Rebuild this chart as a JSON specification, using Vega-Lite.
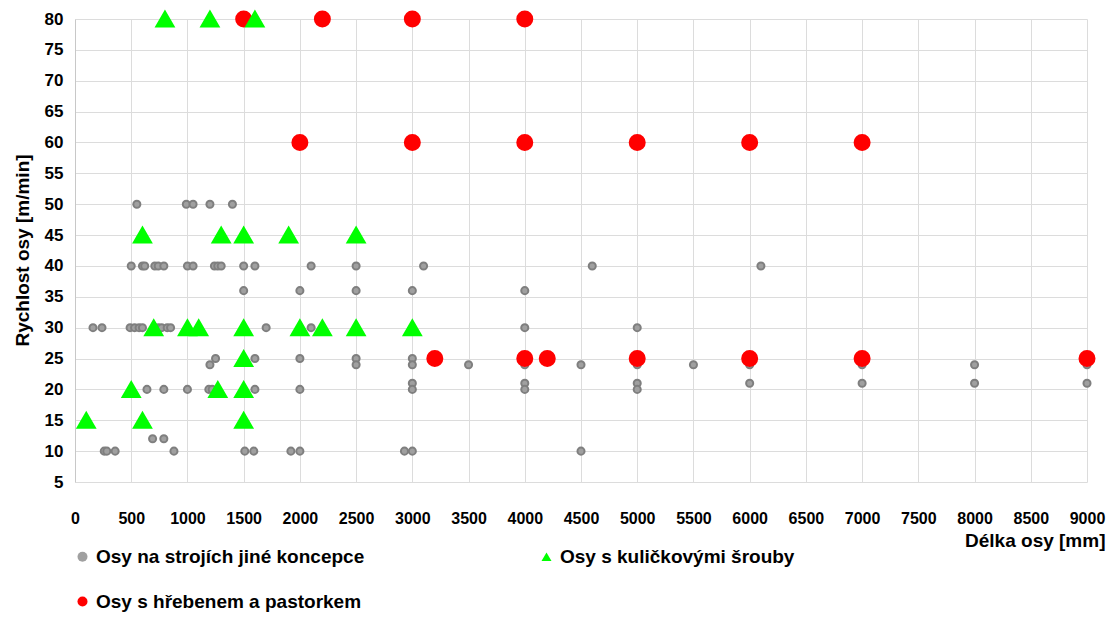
{
  "$schema": "https://vega.github.io/schema/vega-lite/v6.json",
  "width": 1012,
  "height": 463,
  "autosize": {"type": "none"},
  "padding": {"left": 75, "top": 19, "right": 29, "bottom": 135},
  "background": "white",
  "config": {
    "view": {"stroke": null},
    "font": "Liberation Sans"
  },
  "data": {
    "values": [
      {"s": "Osy na strojích jiné koncepce", "x": 550, "y": 50},
      {"s": "Osy na strojích jiné koncepce", "x": 990, "y": 50},
      {"s": "Osy na strojích jiné koncepce", "x": 1050, "y": 50},
      {"s": "Osy na strojích jiné koncepce", "x": 1200, "y": 50},
      {"s": "Osy na strojích jiné koncepce", "x": 1400, "y": 50},
      {"s": "Osy na strojích jiné koncepce", "x": 500, "y": 40},
      {"s": "Osy na strojích jiné koncepce", "x": 600, "y": 40},
      {"s": "Osy na strojích jiné koncepce", "x": 620, "y": 40},
      {"s": "Osy na strojích jiné koncepce", "x": 710, "y": 40},
      {"s": "Osy na strojích jiné koncepce", "x": 740, "y": 40},
      {"s": "Osy na strojích jiné koncepce", "x": 790, "y": 40},
      {"s": "Osy na strojích jiné koncepce", "x": 1000, "y": 40},
      {"s": "Osy na strojích jiné koncepce", "x": 1050, "y": 40},
      {"s": "Osy na strojích jiné koncepce", "x": 1240, "y": 40},
      {"s": "Osy na strojích jiné koncepce", "x": 1270, "y": 40},
      {"s": "Osy na strojích jiné koncepce", "x": 1300, "y": 40},
      {"s": "Osy na strojích jiné koncepce", "x": 1500, "y": 40},
      {"s": "Osy na strojích jiné koncepce", "x": 1600, "y": 40},
      {"s": "Osy na strojích jiné koncepce", "x": 2100, "y": 40},
      {"s": "Osy na strojích jiné koncepce", "x": 2500, "y": 40},
      {"s": "Osy na strojích jiné koncepce", "x": 3100, "y": 40},
      {"s": "Osy na strojích jiné koncepce", "x": 4600, "y": 40},
      {"s": "Osy na strojích jiné koncepce", "x": 6100, "y": 40},
      {"s": "Osy na strojích jiné koncepce", "x": 1500, "y": 36},
      {"s": "Osy na strojích jiné koncepce", "x": 2000, "y": 36},
      {"s": "Osy na strojích jiné koncepce", "x": 2500, "y": 36},
      {"s": "Osy na strojích jiné koncepce", "x": 3000, "y": 36},
      {"s": "Osy na strojích jiné koncepce", "x": 4000, "y": 36},
      {"s": "Osy na strojích jiné koncepce", "x": 160, "y": 30},
      {"s": "Osy na strojích jiné koncepce", "x": 240, "y": 30},
      {"s": "Osy na strojích jiné koncepce", "x": 490, "y": 30},
      {"s": "Osy na strojích jiné koncepce", "x": 530, "y": 30},
      {"s": "Osy na strojích jiné koncepce", "x": 570, "y": 30},
      {"s": "Osy na strojích jiné koncepce", "x": 600, "y": 30},
      {"s": "Osy na strojích jiné koncepce", "x": 740, "y": 30},
      {"s": "Osy na strojích jiné koncepce", "x": 770, "y": 30},
      {"s": "Osy na strojích jiné koncepce", "x": 820, "y": 30},
      {"s": "Osy na strojích jiné koncepce", "x": 850, "y": 30},
      {"s": "Osy na strojích jiné koncepce", "x": 1700, "y": 30},
      {"s": "Osy na strojích jiné koncepce", "x": 2100, "y": 30},
      {"s": "Osy na strojích jiné koncepce", "x": 4000, "y": 30},
      {"s": "Osy na strojích jiné koncepce", "x": 5000, "y": 30},
      {"s": "Osy na strojích jiné koncepce", "x": 1250, "y": 25},
      {"s": "Osy na strojích jiné koncepce", "x": 1600, "y": 25},
      {"s": "Osy na strojích jiné koncepce", "x": 2000, "y": 25},
      {"s": "Osy na strojích jiné koncepce", "x": 2500, "y": 25},
      {"s": "Osy na strojích jiné koncepce", "x": 3000, "y": 25},
      {"s": "Osy na strojích jiné koncepce", "x": 1200, "y": 24},
      {"s": "Osy na strojích jiné koncepce", "x": 2500, "y": 24},
      {"s": "Osy na strojích jiné koncepce", "x": 3000, "y": 24},
      {"s": "Osy na strojích jiné koncepce", "x": 3500, "y": 24},
      {"s": "Osy na strojích jiné koncepce", "x": 4000, "y": 24},
      {"s": "Osy na strojích jiné koncepce", "x": 4500, "y": 24},
      {"s": "Osy na strojích jiné koncepce", "x": 5000, "y": 24},
      {"s": "Osy na strojích jiné koncepce", "x": 5500, "y": 24},
      {"s": "Osy na strojích jiné koncepce", "x": 6000, "y": 24},
      {"s": "Osy na strojích jiné koncepce", "x": 7000, "y": 24},
      {"s": "Osy na strojích jiné koncepce", "x": 8000, "y": 24},
      {"s": "Osy na strojích jiné koncepce", "x": 9000, "y": 24},
      {"s": "Osy na strojích jiné koncepce", "x": 3000, "y": 21},
      {"s": "Osy na strojích jiné koncepce", "x": 4000, "y": 21},
      {"s": "Osy na strojích jiné koncepce", "x": 5000, "y": 21},
      {"s": "Osy na strojích jiné koncepce", "x": 6000, "y": 21},
      {"s": "Osy na strojích jiné koncepce", "x": 7000, "y": 21},
      {"s": "Osy na strojích jiné koncepce", "x": 8000, "y": 21},
      {"s": "Osy na strojích jiné koncepce", "x": 9000, "y": 21},
      {"s": "Osy na strojích jiné koncepce", "x": 640, "y": 20},
      {"s": "Osy na strojích jiné koncepce", "x": 790, "y": 20},
      {"s": "Osy na strojích jiné koncepce", "x": 1000, "y": 20},
      {"s": "Osy na strojích jiné koncepce", "x": 1190, "y": 20},
      {"s": "Osy na strojích jiné koncepce", "x": 1220, "y": 20},
      {"s": "Osy na strojích jiné koncepce", "x": 1600, "y": 20},
      {"s": "Osy na strojích jiné koncepce", "x": 2000, "y": 20},
      {"s": "Osy na strojích jiné koncepce", "x": 3000, "y": 20},
      {"s": "Osy na strojích jiné koncepce", "x": 4000, "y": 20},
      {"s": "Osy na strojích jiné koncepce", "x": 5000, "y": 20},
      {"s": "Osy na strojích jiné koncepce", "x": 690, "y": 12},
      {"s": "Osy na strojích jiné koncepce", "x": 790, "y": 12},
      {"s": "Osy na strojích jiné koncepce", "x": 260, "y": 10},
      {"s": "Osy na strojích jiné koncepce", "x": 283, "y": 10},
      {"s": "Osy na strojích jiné koncepce", "x": 357, "y": 10},
      {"s": "Osy na strojích jiné koncepce", "x": 880, "y": 10},
      {"s": "Osy na strojích jiné koncepce", "x": 1510, "y": 10},
      {"s": "Osy na strojích jiné koncepce", "x": 1590, "y": 10},
      {"s": "Osy na strojích jiné koncepce", "x": 1920, "y": 10},
      {"s": "Osy na strojích jiné koncepce", "x": 2000, "y": 10},
      {"s": "Osy na strojích jiné koncepce", "x": 2930, "y": 10},
      {"s": "Osy na strojích jiné koncepce", "x": 3000, "y": 10},
      {"s": "Osy na strojích jiné koncepce", "x": 4500, "y": 10},
      {"s": "Osy s hřebenem a pastorkem", "x": 1500, "y": 80},
      {"s": "Osy s hřebenem a pastorkem", "x": 2200, "y": 80},
      {"s": "Osy s hřebenem a pastorkem", "x": 3000, "y": 80},
      {"s": "Osy s hřebenem a pastorkem", "x": 4000, "y": 80},
      {"s": "Osy s hřebenem a pastorkem", "x": 2000, "y": 60},
      {"s": "Osy s hřebenem a pastorkem", "x": 3000, "y": 60},
      {"s": "Osy s hřebenem a pastorkem", "x": 4000, "y": 60},
      {"s": "Osy s hřebenem a pastorkem", "x": 5000, "y": 60},
      {"s": "Osy s hřebenem a pastorkem", "x": 6000, "y": 60},
      {"s": "Osy s hřebenem a pastorkem", "x": 7000, "y": 60},
      {"s": "Osy s hřebenem a pastorkem", "x": 3200, "y": 25},
      {"s": "Osy s hřebenem a pastorkem", "x": 4000, "y": 25},
      {"s": "Osy s hřebenem a pastorkem", "x": 4200, "y": 25},
      {"s": "Osy s hřebenem a pastorkem", "x": 5000, "y": 25},
      {"s": "Osy s hřebenem a pastorkem", "x": 6000, "y": 25},
      {"s": "Osy s hřebenem a pastorkem", "x": 7000, "y": 25},
      {"s": "Osy s hřebenem a pastorkem", "x": 9000, "y": 25},
      {"s": "Osy s kuličkovými šrouby", "x": 800, "y": 80},
      {"s": "Osy s kuličkovými šrouby", "x": 1200, "y": 80},
      {"s": "Osy s kuličkovými šrouby", "x": 1600, "y": 80},
      {"s": "Osy s kuličkovými šrouby", "x": 600, "y": 45},
      {"s": "Osy s kuličkovými šrouby", "x": 1300, "y": 45},
      {"s": "Osy s kuličkovými šrouby", "x": 1500, "y": 45},
      {"s": "Osy s kuličkovými šrouby", "x": 1900, "y": 45},
      {"s": "Osy s kuličkovými šrouby", "x": 2500, "y": 45},
      {"s": "Osy s kuličkovými šrouby", "x": 700, "y": 30},
      {"s": "Osy s kuličkovými šrouby", "x": 1000, "y": 30},
      {"s": "Osy s kuličkovými šrouby", "x": 1100, "y": 30},
      {"s": "Osy s kuličkovými šrouby", "x": 1500, "y": 30},
      {"s": "Osy s kuličkovými šrouby", "x": 2000, "y": 30},
      {"s": "Osy s kuličkovými šrouby", "x": 2200, "y": 30},
      {"s": "Osy s kuličkovými šrouby", "x": 2500, "y": 30},
      {"s": "Osy s kuličkovými šrouby", "x": 3000, "y": 30},
      {"s": "Osy s kuličkovými šrouby", "x": 1500, "y": 25},
      {"s": "Osy s kuličkovými šrouby", "x": 500, "y": 20},
      {"s": "Osy s kuličkovými šrouby", "x": 1270, "y": 20},
      {"s": "Osy s kuličkovými šrouby", "x": 1500, "y": 20},
      {"s": "Osy s kuličkovými šrouby", "x": 100, "y": 15},
      {"s": "Osy s kuličkovými šrouby", "x": 600, "y": 15},
      {"s": "Osy s kuličkovými šrouby", "x": 1500, "y": 15}
    ]
  },
  "mark": {"type": "point", "filled": true, "opacity": 1},
  "encoding": {
    "x": {
      "field": "x", "type": "quantitative",
      "scale": {"domain": [0, 9000], "nice": false, "zero": false},
      "axis": {
        "values": [0,500,1000,1500,2000,2500,3000,3500,4000,4500,5000,5500,6000,6500,7000,7500,8000,8500,9000],
        "format": "d",
        "title": "Délka osy [mm]",
        "titleFont": "Liberation Sans", "titleFontSize": 19, "titleFontWeight": "bold", "titleColor": "#000",
        "titleAnchor": "end", "titleAlign": "right", "titleX": 1030, "titleY": 58, "titleBaseline": "middle",
        "labelFont": "Liberation Sans", "labelFontSize": 16, "labelFontWeight": "bold", "labelColor": "#000",
        "labelPadding": 28, "ticks": false, "domain": false,
        "grid": true, "gridColor": "#dcdcdc", "gridWidth": 1,
        "labelFlush": false, "labelOverlap": false
      }
    },
    "y": {
      "field": "y", "type": "quantitative",
      "scale": {"domain": [5, 80], "nice": false, "zero": false},
      "axis": {
        "values": [5,10,15,20,25,30,35,40,45,50,55,60,65,70,75,80],
        "title": "Rychlost osy [m/min]",
        "titleFont": "Liberation Sans", "titleFontSize": 19, "titleFontWeight": "bold", "titleColor": "#000",
        "titleX": -53, "titleY": 231, "titleAngle": -90, "titleAlign": "center", "titleBaseline": "middle", "titleAnchor": null,
        "labelFont": "Liberation Sans", "labelFontSize": 17, "labelFontWeight": "bold", "labelColor": "#000",
        "labelPadding": 12, "ticks": false, "domain": true, "domainColor": "#c8c8c8",
        "grid": true, "gridColor": "#dcdcdc", "gridWidth": 1,
        "labelFlush": false, "labelOverlap": false
      }
    },
    "color": {
      "field": "s", "type": "nominal",
      "scale": {
        "domain": ["Osy na strojích jiné koncepce", "Osy s kuličkovými šrouby", "Osy s hřebenem a pastorkem"],
        "range": ["#a0a0a0", "#00ff00", "#ff0000"]
      },
      "legend": {
        "title": null, "orient": "none", "legendX": -2, "legendY": 528, "direction": "horizontal",
        "columns": 2, "columnPadding": 172, "rowPadding": 25,
        "labelFont": "Liberation Sans", "labelFontSize": 19, "labelFontWeight": "bold", "labelColor": "#000",
        "labelOffset": 4, "symbolStrokeWidth": 0, "labelLimit": 500, "symbolSize": 100,
        "encode": {
          "symbols": {
            "enter": {
              "size": {"signal": "datum.label === 'Osy na strojích jiné koncepce' ? 40 : 100"}
            },
            "update": {
              "size": {"signal": "datum.label === 'Osy na strojích jiné koncepce' ? 40 : 100"}
            }
          }
        }
      }
    },
    "shape": {
      "field": "s", "type": "nominal",
      "scale": {
        "domain": ["Osy na strojích jiné koncepce", "Osy s kuličkovými šrouby", "Osy s hřebenem a pastorkem"],
        "range": ["circle", "triangle-up", "circle"]
      }
    },
    "size": {
      "condition": [
        {"test": "datum.s === 'Osy na strojích jiné koncepce'", "value": 50},
        {"test": "datum.s === 'Osy s kuličkovými šrouby'", "value": 300}
      ],
      "value": 225
    },
    "stroke": {
      "field": "s", "type": "nominal",
      "scale": {
        "domain": ["Osy na strojích jiné koncepce", "Osy s kuličkovými šrouby", "Osy s hřebenem a pastorkem"],
        "range": ["#7f7f7f", "#00ff00", "#ff0000"]
      },
      "legend": null
    }
  }
}
